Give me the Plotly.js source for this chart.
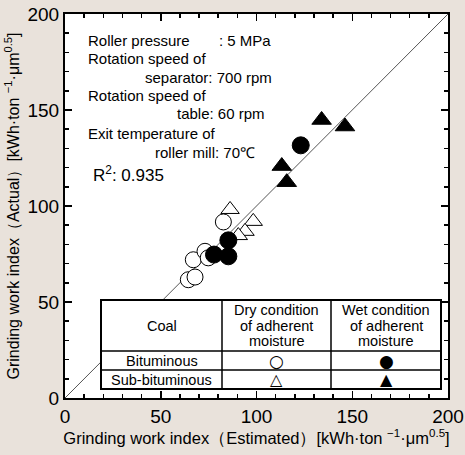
<!DOCTYPE html>
<html>
<head>
<meta charset="utf-8">
<script src="https://cdn.plot.ly/plotly-3.0.1.min.js"></script>
<style>html,body{margin:0;padding:0;background:#e9e2db;}</style>
</head>
<body>
<div id="chart" style="width:465px;height:455px;"></div>
<script>
// Bituminous, dry (open circles)
const bitDryX = [64.4, 67.9, 67.0, 73.1, 74.8, 82.7];
const bitDryY = [61.6, 63.0, 72.0, 76.4, 73.0, 91.7];
// Sub-bituminous, dry (open triangles)
const subDryX = [86.2, 98.3, 94.0, 90.5];
const subDryY = [98.2, 92.0, 86.8, 84.6];
// Bituminous, wet (filled circles)
const bitWetX = [85.3, 77.8, 85.3, 123.1];
const bitWetY = [82.1, 74.7, 73.8, 131.6];
// Sub-bituminous, wet (filled triangles)
const subWetX = [134.0, 146.2, 113.2, 115.8];
const subWetY = [144.8, 141.4, 120.8, 112.4];
// 1:1 line
const lineX = [0, 200];
const lineY = [0, 200];

const NB = "\u00a0";
const conditionLines = [
  "Roller pressure" + NB.repeat(7) + ":" + NB + "5 MPa",
  "Rotation speed of",
  "separator:" + NB + "700 rpm",
  "Rotation speed of",
  "table:" + NB + "60 rpm",
  "Exit temperature of",
  "roller mill:" + NB + "70℃"
];
const r2Text = "R<sup>2</sup>:" + NB + "0.935";
const tableHeader = ["Coal", ["Dry condition", "of adherent", "moisture"], ["Wet condition", "of adherent", "moisture"]];
const tableRows = [["Bituminous", "○", "●"], ["Sub-bituminous", "△", "▲"]];

const FONT = "Liberation Sans, Arial, sans-serif";
const SYMFONT = "DejaVu Sans, sans-serif";
const L = 65, T = 14, W = 383, H = 384;
const px = x => (x - L) / W;
const py = y => (T + H - y) / H;

const traces = [
  {x: lineX, y: lineY, mode: 'lines', line: {color: '#555', width: 1}, hoverinfo: 'skip'},
  {x: bitDryX, y: bitDryY, mode: 'markers', marker: {symbol: 'circle', size: 16, color: 'white', line: {color: 'black', width: 1}}},
  {x: subDryX, y: subDryY, mode: 'markers', marker: {symbol: 'triangle-up', size: 16, color: 'white', line: {color: 'black', width: 1}}},
  {x: bitWetX, y: bitWetY, mode: 'markers', marker: {symbol: 'circle', size: 17, color: 'black', line: {color: 'black', width: 1}}},
  {x: subWetX, y: subWetY, mode: 'markers', marker: {symbol: 'triangle-up', size: 17, color: 'black', line: {color: 'black', width: 1}}}
];

const condX = [86, 86, 143, 86, 175, 86, 153];
const condY = [40, 58, 77, 96, 114, 133, 152];
const annotations = conditionLines.map((t, i) => ({
  xref: 'paper', yref: 'paper', x: px(condX[i]), y: py(condY[i]),
  xanchor: 'left', yanchor: 'middle', text: t, showarrow: false,
  font: {family: FONT, size: 15, color: 'black'}
}));
annotations.push({xref: 'paper', yref: 'paper', x: px(91), y: py(174), xanchor: 'left', yanchor: 'middle',
  text: r2Text, showarrow: false, font: {family: FONT, size: 17, color: 'black'}});

// table
const colL = [101, 222, 331], colR = [222, 331, 441];
const rowT = [300, 351, 370], rowB = [351, 370, 389];
const TF = 14.5;
const addCell = (t, cx, cy, size, fam) => annotations.push({xref: 'paper', yref: 'paper', x: px(cx), y: py(cy),
  xanchor: 'center', yanchor: 'middle', text: t, showarrow: false, font: {family: fam || FONT, size: size, color: 'black'}});
tableHeader.forEach((t, c) => {
  const cx = (colL[c] + colR[c]) / 2;
  if (Array.isArray(t)) {
    t.forEach((ln, k) => addCell(ln, cx, 310 + k * 15.5, TF));
  } else {
    addCell(t, cx, 326, TF);
  }
});
const symSize = {"○": 17, "●": 17, "△": 16, "▲": 16};
tableRows.forEach((row, r) => row.forEach((t, c) => {
  const isSym = t in symSize;
  addCell(t, (colL[c] + colR[c]) / 2, (rowT[r + 1] + rowB[r + 1]) / 2, isSym ? symSize[t] : TF, isSym ? SYMFONT : FONT);
}));

const shapes = [
  {type: 'rect', xref: 'paper', yref: 'paper', x0: px(101), x1: px(441), y0: py(389), y1: py(300), fillcolor: 'white', line: {color: 'black', width: 2}, layer: 'above'},
  {type: 'line', xref: 'paper', yref: 'paper', x0: px(222), x1: px(222), y0: py(389), y1: py(300), line: {color: 'black', width: 1.5}, layer: 'above'},
  {type: 'line', xref: 'paper', yref: 'paper', x0: px(331), x1: px(331), y0: py(389), y1: py(300), line: {color: 'black', width: 1.5}, layer: 'above'},
  {type: 'line', xref: 'paper', yref: 'paper', x0: px(101), x1: px(441), y0: py(351), y1: py(351), line: {color: 'black', width: 1.5}, layer: 'above'},
  {type: 'line', xref: 'paper', yref: 'paper', x0: px(101), x1: px(441), y0: py(370), y1: py(370), line: {color: 'black', width: 1.5}, layer: 'above'}
];

const axisCommon = {
  range: [0, 200], dtick: 50, tick0: 0, ticks: 'inside', ticklen: 7, tickwidth: 1.5, tickcolor: 'black',
  showline: true, linewidth: 2, linecolor: 'black', mirror: 'ticks', showgrid: false, zeroline: false,
  tickfont: {family: FONT, size: 19, color: 'black'},
  minor: {ticks: 'inside', ticklen: 4, dtick: 10, tickwidth: 1.5, tickcolor: 'black', showgrid: false},
  automargin: false, fixedrange: true
};

const layout = {
  width: 465, height: 455,
  margin: {l: L, r: 465 - L - W, t: T, b: 455 - T - H},
  paper_bgcolor: '#e9e2db', plot_bgcolor: 'white',
  showlegend: false,
  xaxis: Object.assign({}, axisCommon, {
    title: {text: "Grinding work index（Estimated）[kWh·ton <sup>−1</sup>·μm<sup>0.5</sup>]", font: {family: FONT, size: 16.5, color: 'black'}, standoff: 4}
  }),
  yaxis: Object.assign({}, axisCommon, {
    title: {text: "Grinding work index（Actual）[kWh·ton <sup>−1</sup>·μm<sup>0.5</sup>]", font: {family: FONT, size: 16, color: 'black'}, standoff: 4}
  }),
  annotations: annotations,
  shapes: shapes,
  font: {family: FONT, color: 'black'}
};

Plotly.newPlot('chart', traces, layout, {displayModeBar: false, staticPlot: true});
</script>
</body>
</html>
